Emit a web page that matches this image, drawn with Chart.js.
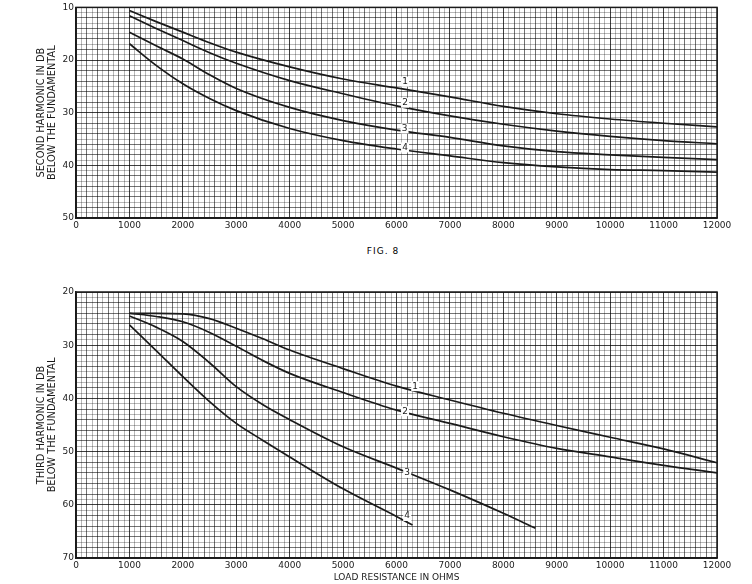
<!DOCTYPE html>
<html>
<head>
<meta charset="utf-8">
<script src="https://cdn.jsdelivr.net/npm/chart.js@4"></script>
<style>
    body { margin: 0; background: #fff; width: 752px; height: 584px; position: relative; overflow: hidden; }
    #fig2nd { position: absolute; left: 0; top: 0; }
    #fig3rd { position: absolute; left: 0; top: 270px; }
    #caption {
        position: absolute; left: 0; width: 766px; top: 246px; text-align: center;
        font: 9px "DejaVu Sans", sans-serif; letter-spacing: 1px; color: #000;
    }
</style>
</head>
<body>
<canvas id="fig2nd" width="752" height="240"></canvas>
<div id="caption">FIG. 8</div>
<canvas id="fig3rd" width="752" height="314"></canvas>
<script>
// Load resistance (ohms) sampled along each curve
const loadOhms = [1000, 1500, 2000, 2500, 3000, 4000, 5000, 6000, 7000, 8000, 9000, 10000, 11000, 12000];

// Second harmonic, db below fundamental (top figure)
const second1 = [10.6, 12.7, 14.7, 16.7, 18.5, 21.3, 23.6, 25.3, 27.0, 28.8, 30.2, 31.2, 32.0, 32.7];
const second2 = [11.6, 14.0, 16.3, 18.6, 20.6, 23.9, 26.4, 28.7, 30.6, 32.2, 33.5, 34.5, 35.3, 35.9];
const second3 = [14.7, 17.3, 19.8, 22.8, 25.4, 29.0, 31.5, 33.3, 34.7, 36.3, 37.4, 38.0, 38.5, 38.9];
const second4 = [16.9, 21.0, 24.5, 27.3, 29.6, 33.0, 35.3, 36.9, 38.2, 39.5, 40.3, 40.8, 41.0, 41.3];

// Third harmonic (bottom figure) - curves 3 and 4 stop early
const thirdOhms12 = [1000, 1500, 2000, 2500, 3000, 3500, 4000, 5000, 6000, 7000, 8000, 9000, 10000, 11000, 12000];
const third1 = [24.0, 24.0, 24.1, 25.0, 26.8, 28.8, 30.9, 34.4, 37.7, 40.3, 42.8, 45.1, 47.3, 49.5, 52.1];
const third2 = [24.0, 24.6, 25.6, 27.6, 30.2, 32.9, 35.3, 38.9, 42.2, 44.7, 47.2, 49.4, 51.0, 52.6, 54.0];
const thirdOhms3 = [1000, 1500, 2000, 2500, 3000, 3500, 4000, 5000, 6000, 7000, 8000, 8600];
const third3 = [24.5, 26.6, 29.3, 33.3, 37.8, 41.2, 44.0, 49.1, 53.1, 57.2, 61.6, 64.4];
const thirdOhms4 = [1000, 1500, 2000, 2500, 3000, 3500, 4000, 5000, 6000, 6300];
const third4 = [26.2, 31.0, 35.9, 40.6, 44.7, 47.9, 51.0, 57.0, 62.2, 63.8];

// Curve number labels: [ohms, db]
const curveNames = ['1', '2', '3', '4'];
const secondLabelAt = [[6160, 24.1], [6160, 28.1], [6150, 33.0], [6160, 36.6]];
const thirdLabelAt = [[6350, 37.7], [6160, 42.4], [6200, 54.0], [6200, 62.1]];

const xTicks = [0, 1000, 2000, 3000, 4000, 5000, 6000, 7000, 8000, 9000, 10000, 11000, 12000];

const ink = '#1a1a1a';
const font = { family: '"DejaVu Sans", sans-serif', size: 9 };

function pts(xs, ys) {
    return xs.map((x, i) => ({ x: x, y: ys[i] }));
}

function curve(xs, ys) {
    return {
        data: pts(xs, ys),
        borderColor: ink,
        borderWidth: 1.7,
        pointRadius: 0,
        fill: false,
        cubicInterpolationMode: 'monotone'
    };
}

// graph paper: dark every 1000 ohm / 10 db, medium every other line, faint between
function xGridColor(ctx) {
    const v = ctx.tick.value;
    if (v % 1000 === 0) return 'rgba(0,0,0,0.75)';
    if (v % 200 === 0) return 'rgba(0,0,0,0.55)';
    return 'rgba(0,0,0,0.28)';
}
function yGridColor(ctx) {
    const v = ctx.tick.value;
    if (v % 10 === 0) return 'rgba(0,0,0,0.75)';
    if (v % 2 === 0) return 'rgba(0,0,0,0.55)';
    return 'rgba(0,0,0,0.28)';
}

const curveLabels = {
    id: 'curveLabels',
    afterDatasetsDraw(chart, args, opts) {
        const c = chart.ctx;
        const xs = chart.scales.x, ys = chart.scales.y;
        c.save();
        c.font = '9px "DejaVu Sans", sans-serif';
        c.textAlign = 'center';
        c.textBaseline = 'middle';
        opts.at.forEach((p, i) => {
            const px = xs.getPixelForValue(p[0]), py = ys.getPixelForValue(p[1]);
            c.fillStyle = '#fff';
            c.fillRect(px - 4, py - 5, 8, 10);
            c.fillStyle = ink;
            c.fillText(curveNames[i], px, py);
        });
        // frame around plot
        const a = chart.chartArea;
        c.strokeStyle = ink;
        c.lineWidth = 1.5;
        c.strokeRect(a.left, a.top, a.right - a.left, a.bottom - a.top);
        c.restore();
    }
};

function makeChart(id, cfg) {
    const ctx = document.getElementById(id).getContext('2d');
    return new Chart(ctx, {
        type: 'line',
        data: { datasets: cfg.datasets },
        options: {
            responsive: false,
            animation: false,
            layout: { padding: { left: 0, right: 35, top: cfg.padTop, bottom: 0 } },
            plugins: {
                legend: { display: false },
                tooltip: { enabled: false },
                curveLabels: { at: cfg.labelAt }
            },
            scales: {
                x: {
                    type: 'linear',
                    min: 0, max: 12000,
                    afterBuildTicks: s => { s.ticks = Array.from({ length: 121 }, (_, i) => ({ value: i * 100 })); },
                    afterFit: s => { s.height = cfg.xHeight; },
                    ticks: {
                        autoSkip: false, maxRotation: 0, color: ink, font: font, padding: 2,
                        callback: v => (xTicks.includes(v) ? String(v) : '')
                    },
                    grid: { color: xGridColor, lineWidth: 1, drawTicks: false },
                    border: { color: ink, width: 1.5 },
                    title: cfg.xTitle ? {
                        display: true, text: cfg.xTitle, color: ink,
                        font: { family: font.family, size: 9 }, padding: { top: 0, bottom: 1 }
                    } : { display: false }
                },
                y: {
                    type: 'linear',
                    reverse: true,
                    min: cfg.yMin, max: cfg.yMax,
                    afterBuildTicks: s => {
                        const t = [];
                        for (let v = cfg.yMin; v <= cfg.yMax; v++) t.push({ value: v });
                        s.ticks = t;
                    },
                    afterFit: s => { s.width = 76; },
                    ticks: {
                        autoSkip: false, color: ink, font: font, padding: 2,
                        callback: v => (v % 10 === 0 ? String(v) : '')
                    },
                    grid: { color: yGridColor, lineWidth: 1, drawTicks: false },
                    border: { color: ink, width: 1.5 },
                    title: {
                        display: true, text: cfg.yTitle, color: ink,
                        font: { family: font.family, size: 9.8, lineHeight: 1.1 },
                        padding: { top: 36, bottom: 0 }
                    }
                }
            }
        },
        plugins: [curveLabels]
    });
}

makeChart('fig2nd', {
    datasets: [
        curve(loadOhms, second1),
        curve(loadOhms, second2),
        curve(loadOhms, second3),
        curve(loadOhms, second4)
    ],
    yMin: 10, yMax: 50,
    padTop: 5,
    xHeight: 22,
    yTitle: ['SECOND HARMONIC IN DB', 'BELOW THE FUNDAMENTAL'],
    labelAt: secondLabelAt
});

makeChart('fig3rd', {
    datasets: [
        curve(thirdOhms12, third1),
        curve(thirdOhms12, third2),
        curve(thirdOhms3, third3),
        curve(thirdOhms4, third4)
    ],
    yMin: 20, yMax: 70,
    padTop: 22,
    xHeight: 26,
    xTitle: 'LOAD RESISTANCE IN OHMS',
    yTitle: ['THIRD HARMONIC IN DB', 'BELOW THE FUNDAMENTAL'],
    labelAt: thirdLabelAt
});
</script>
</body>
</html>
